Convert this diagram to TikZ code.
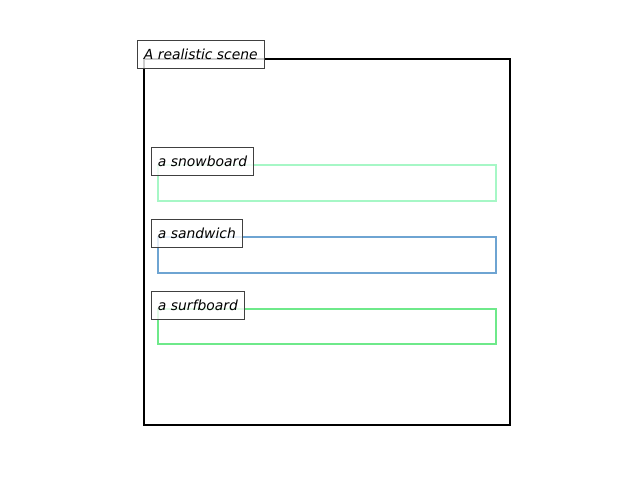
\documentclass[tikz,border=0pt]{standalone}
\usepackage{fontspec}
\setmainfont{DejaVu Sans}
\definecolor{snowc}{HTML}{A6F7C6}
\definecolor{sandc}{HTML}{6EA4D2}
\definecolor{surfc}{HTML}{6EE98A}
\definecolor{lblc}{HTML}{404040}
\begin{document}
\begin{tikzpicture}[x=0.72bp,y=-0.72bp,
  region/.style={line width=1.9bp},
  lbl/.style={draw=lblc, line width=0.8bp, fill=white, fill opacity=0.8, text opacity=1,
    anchor=north west, inner xsep=4.6bp, inner ysep=0pt, minimum height=20.2bp,
    font=\fontsize{10bp}{12bp}\selectfont\itshape}]
\useasboundingbox (0,0) rectangle (640,480);
\draw[region, black] (144,59) rectangle (510,425);
\draw[region, snowc] (158,165) rectangle (496,201);
\draw[region, sandc] (158,237) rectangle (496,273);
\draw[region, surfc] (158,309) rectangle (496,344);
\node[lbl] (scene) at (137,40) {A realistic scene};
\node[lbl] (snow) at (151,147) {a snowboard};
\node[lbl] (sand) at (151,219) {a sandwich};
\node[lbl] (surf) at (151,291) {a surfboard};
\end{tikzpicture}
\end{document}
